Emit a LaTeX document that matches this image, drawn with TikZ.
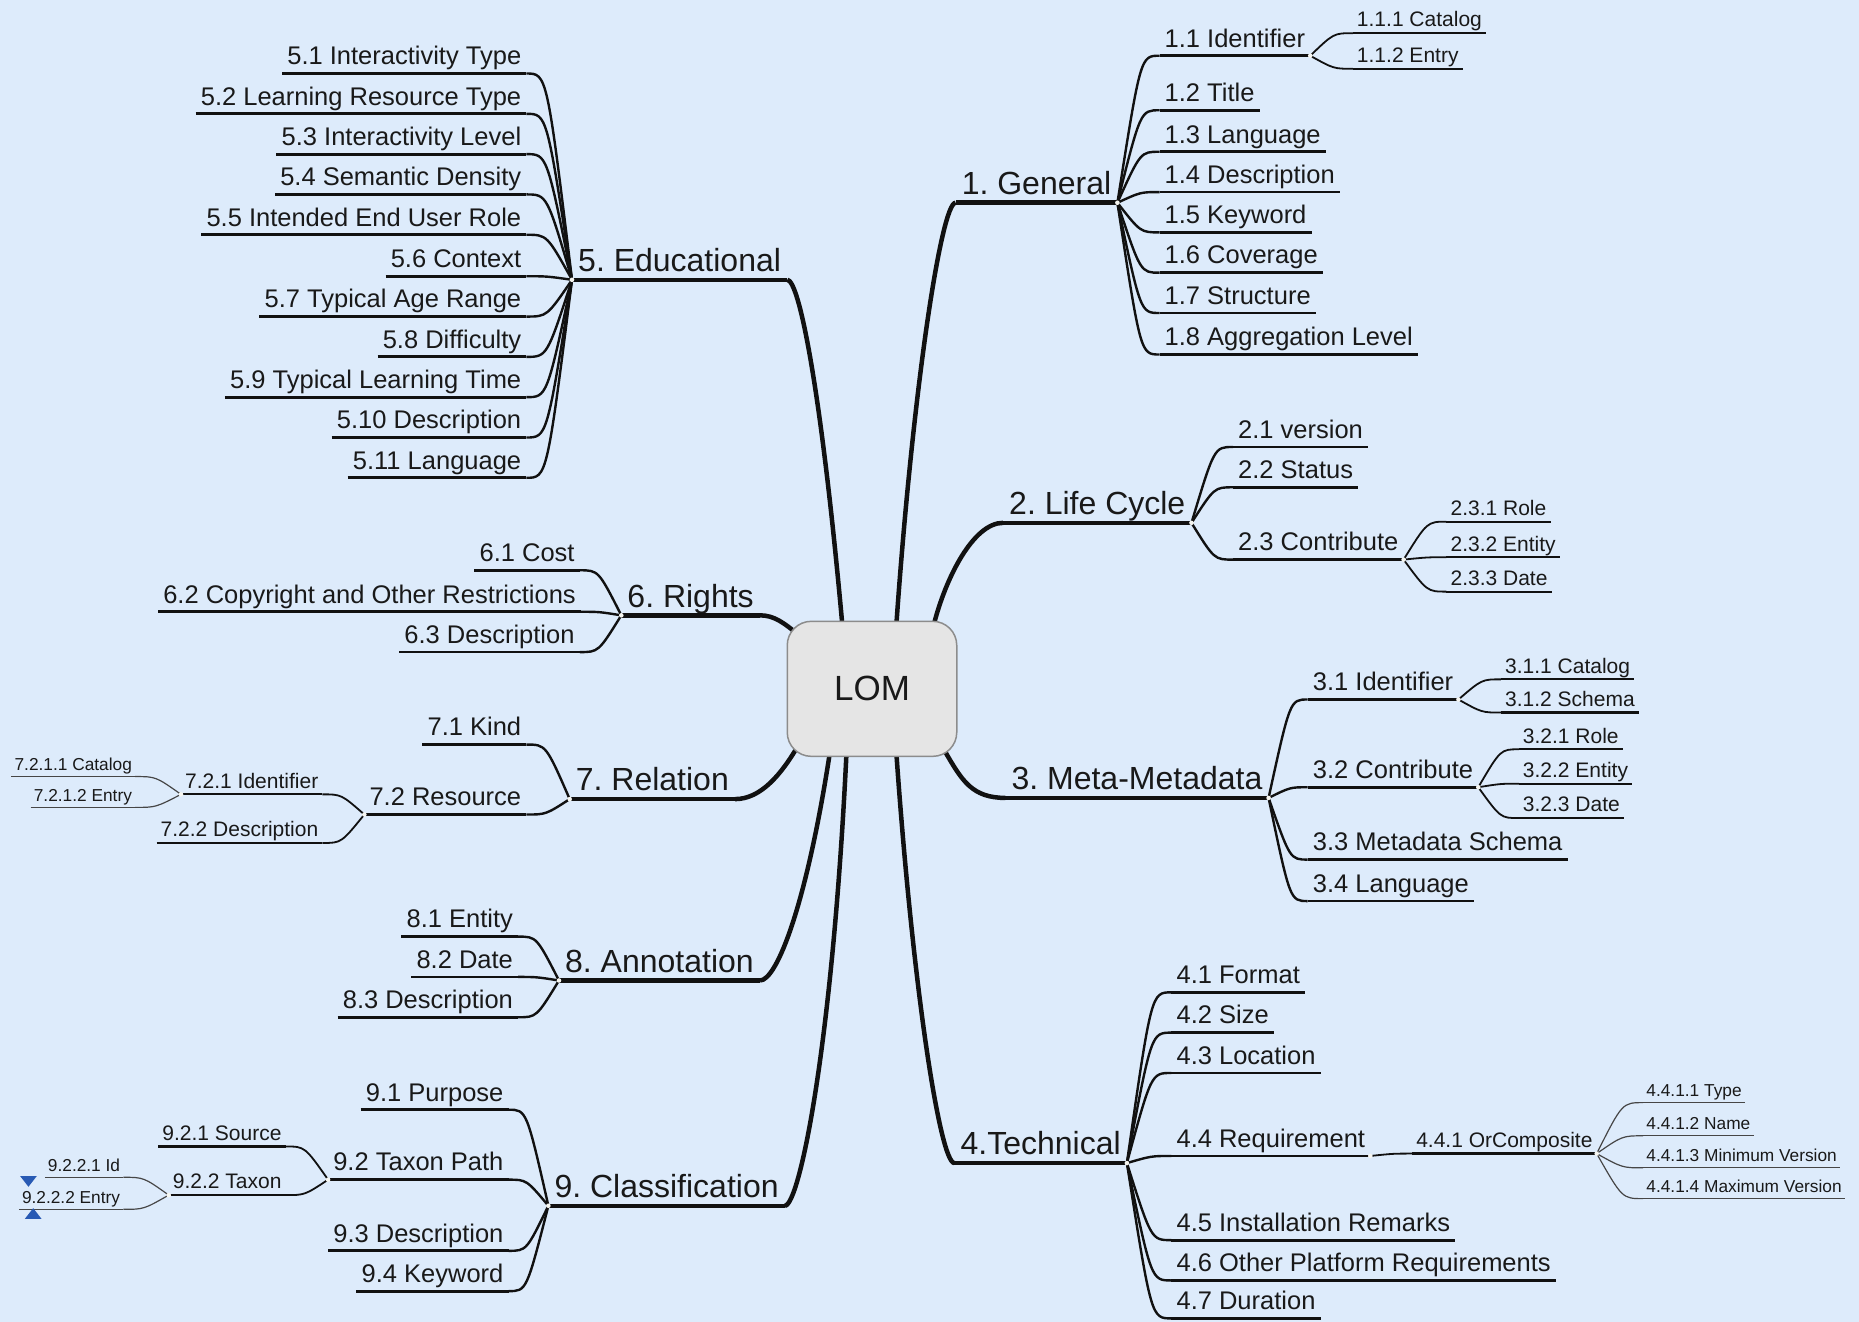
\documentclass[tikz,border=0pt]{standalone}
\usepackage{fontspec}
\setmainfont{Liberation Sans}
\usetikzlibrary{calc}
\pgfdeclarelayer{back}
\pgfdeclarelayer{edges}
\pgfsetlayers{back,edges,main}
\definecolor{bgc}{RGB}{221,235,251}
\definecolor{txt}{RGB}{25,25,25}
\definecolor{ln}{RGB}{17,17,17}
\definecolor{lnfour}{RGB}{70,70,70}
\definecolor{lomfill}{RGB}{229,229,229}
\definecolor{lomdraw}{RGB}{140,140,140}
\definecolor{tri}{RGB}{40,90,180}
\definecolor{dotc}{RGB}{245,245,240}
\newcommand\mmU[2]{\draw[#2] (#1.south west) -- (#1.south east);}
\newcommand\mmR[3]{\draw[#3] let \p1=(#1.south east), \p2=(#2.south west) in (\p1) .. controls ({\x2-0.45*(\x2-\x1)},\y2) .. (\p2);}
\newcommand\mmL[3]{\draw[#3] let \p1=(#1.south west), \p2=(#2.south east) in (\p1) .. controls ({\x2+0.45*(\x1-\x2)},\y2) .. (\p2);}
\newcommand\mmDR[1]{\fill[dotc] (#1.south east) circle (2.3pt);}
\newcommand\mmDL[1]{\fill[dotc] (#1.south west) circle (2.3pt);}
\begin{document}
\frenchspacing
\begin{tikzpicture}[x=1.1856pt,y=-1.1856pt,
  base/.style={text=txt, text depth=0pt, inner sep=0pt},
  L1/.style={base, font=\fontsize{32}{38}\selectfont\frenchspacing, inner xsep=6pt, inner ysep=8pt},
  L2/.style={base, font=\fontsize{25.5}{30}\selectfont, inner xsep=5pt, inner ysep=8.5pt},
  L3/.style={base, font=\fontsize{21}{25}\selectfont, inner xsep=4pt, inner ysep=6pt},
  L4/.style={base, font=\fontsize{17.3}{21}\selectfont, inner xsep=3pt, inner ysep=6pt},
  R/.style={anchor=south west}, Lt/.style={anchor=south east},
  U1/.style={draw=ln, line width=4.5pt},
  U2/.style={draw=ln, line width=2.8pt},
  U3/.style={draw=ln, line width=2.2pt},
  U4/.style={draw=lnfour, line width=1.3pt},
  E1/.style={draw=ln, line width=4.5pt},
  E2/.style={draw=ln, line width=2.4pt},
  E3/.style={draw=ln, line width=1.8pt},
  E4/.style={draw=lnfour, line width=1.2pt},
  lomst/.style={rectangle, rounded corners=24pt, fill=lomfill, draw=lomdraw, line width=1.5pt,
    minimum width=169.5pt, minimum height=135pt, text=txt, font=\fontsize{35}{40}\selectfont}
]
\begin{pgfonlayer}{back}
\fill[bgc] (0,0) rectangle (1568,1115);
\end{pgfonlayer}
\useasboundingbox (0,0) rectangle (1568,1115);

\node[lomst] (lom) at (735.5,581) {LOM};

% level 1
\node[L1,R] (gen) at (806,171) {1. General};
\node[L1,R] (life) at (846,441) {2. Life Cycle};
\node[L1,R] (meta) at (848,673) {3. Meta-Metadata};
\node[L1,R] (tech) at (805,981) {4.Technical};
\node[L1,Lt] (edu) at (664,236) {5. Educational};
\node[L1,Lt] (rights) at (641,519) {6. Rights};
\node[L1,Lt] (rel) at (620,674) {7. Relation};
\node[L1,Lt] (ann) at (641,827) {8. Annotation};
\node[L1,Lt] (cls) at (662,1017) {9. Classification};

% 1. General
\node[L2,R] (g1) at (978,47) {1.1 Identifier};
\node[L2,R] (g2) at (978,93) {1.2 Title};
\node[L2,R] (g3) at (978,128) {1.3 Language};
\node[L2,R] (g4) at (978,162) {1.4 Description};
\node[L2,R] (g5) at (978,196) {1.5 Keyword};
\node[L2,R] (g6) at (978,230) {1.6 Coverage};
\node[L2,R] (g7) at (978,264) {1.7 Structure};
\node[L2,R] (g8) at (978,299) {1.8 Aggregation Level};
\node[L3,R] (g11) at (1141,28) {1.1.1 Catalog};
\node[L3,R] (g12) at (1141,58) {1.1.2 Entry};

% 2. Life Cycle
\node[L2,R] (lc1) at (1040,377) {2.1 version};
\node[L2,R] (lc2) at (1040,411) {2.2 Status};
\node[L2,R] (lc3) at (1040,472) {2.3 Contribute};
\node[L3,R] (lc31) at (1220,440) {2.3.1 Role};
\node[L3,R] (lc32) at (1220,470) {2.3.2 Entity};
\node[L3,R] (lc33) at (1220,499) {2.3.3 Date};

% 3. Meta-Metadata
\node[L2,R] (m1) at (1103,590) {3.1 Identifier};
\node[L2,R] (m2) at (1103,664) {3.2 Contribute};
\node[L2,R] (m3) at (1103,725) {3.3 Metadata Schema};
\node[L2,R] (m4) at (1103,760) {3.4 Language};
\node[L3,R] (m11) at (1266,573) {3.1.1 Catalog};
\node[L3,R] (m12) at (1266,601) {3.1.2 Schema};
\node[L3,R] (m21) at (1281,632) {3.2.1 Role};
\node[L3,R] (m22) at (1281,661) {3.2.2 Entity};
\node[L3,R] (m23) at (1281,690) {3.2.3 Date};

% 4. Technical
\node[L2,R] (t1) at (988,837) {4.1 Format};
\node[L2,R] (t2) at (988,871) {4.2 Size};
\node[L2,R] (t3) at (988,905) {4.3 Location};
\node[L2,R] (t4) at (988,975) {4.4 Requirement};
\node[L2,R] (t5) at (988,1046) {4.5 Installation Remarks};
\node[L2,R] (t6) at (988,1080) {4.6 Other Platform Requirements};
\node[L2,R] (t7) at (988,1112) {4.7 Duration};
\node[L3,R] (t41) at (1191,973) {4.4.1 OrComposite};
\node[L4,R] (t411) at (1386,930) {4.4.1.1 Type};
\node[L4,R] (t412) at (1386,958) {4.4.1.2 Name};
\node[L4,R] (t413) at (1386,985) {4.4.1.3 Minimum Version};
\node[L4,R] (t414) at (1386,1011) {4.4.1.4 Maximum Version};

% 5. Educational
\node[L2,Lt] (ed1) at (444,62) {5.1 Interactivity Type};
\node[L2,Lt] (ed2) at (444,96) {5.2 Learning Resource Type};
\node[L2,Lt] (ed3) at (444,130) {5.3 Interactivity Level};
\node[L2,Lt] (ed4) at (444,164) {5.4 Semantic Density};
\node[L2,Lt] (ed5) at (444,198) {5.5 Intended End User Role};
\node[L2,Lt] (ed6) at (444,233) {5.6 Context};
\node[L2,Lt] (ed7) at (444,267) {5.7 Typical Age Range};
\node[L2,Lt] (ed8) at (444,301) {5.8 Difficulty};
\node[L2,Lt] (ed9) at (444,335) {5.9 Typical Learning Time};
\node[L2,Lt] (ed10) at (444,369) {5.10 Description};
\node[L2,Lt] (ed11) at (444,403) {5.11 Language};

% 6. Rights
\node[L2,Lt] (r1) at (489,481) {6.1 Cost};
\node[L2,Lt] (r2) at (490,516) {6.2 Copyright and Other Restrictions};
\node[L2,Lt] (r3) at (489,550) {6.3 Description};

% 7. Relation
\node[L2,Lt] (rl1) at (444,628) {7.1 Kind};
\node[L2,Lt] (rl2) at (444,687) {7.2 Resource};
\node[L3,Lt] (rl21) at (272,670) {7.2.1 Identifier};
\node[L3,Lt] (rl22) at (272,711) {7.2.2 Description};
\node[L4,Lt] (rl211) at (114,655) {7.2.1.1 Catalog};
\node[L4,Lt] (rl212) at (114,681) {7.2.1.2 Entry};

% 8. Annotation
\node[L2,Lt] (a1) at (437,790) {8.1 Entity};
\node[L2,Lt] (a2) at (437,824) {8.2 Date};
\node[L2,Lt] (a3) at (437,858) {8.3 Description};

% 9. Classification
\node[L2,Lt] (c1) at (429,936) {9.1 Purpose};
\node[L2,Lt] (c2) at (429,995) {9.2 Taxon Path};
\node[L2,Lt] (c3) at (429,1055) {9.3 Description};
\node[L2,Lt] (c4) at (429,1089) {9.4 Keyword};
\node[L3,Lt] (c21) at (241,967) {9.2.1 Source};
\node[L3,Lt] (c22) at (241,1008) {9.2.2 Taxon};
\node[L4,Lt] (c221) at (104,993) {9.2.2.1 Id};
\node[L4,Lt] (c222) at (104,1020) {9.2.2.2 Entry};

% root connectors (behind the LOM box)
\begin{pgfonlayer}{edges}
\draw[E1] ($(lom.north)+(20.5,4)$) .. controls +(14,-200) and +(-12,0) .. (gen.south west);
\draw[E1] ($(lom.north)+(52,4)$) .. controls +(10,-40) and +(-25,0) .. (life.south west);
\draw[E1] ($(lom.south)+(62,-4)$) .. controls +(14,24) and +(-28,0) .. (meta.south west);
\draw[E1] ($(lom.south)+(20.5,-4)$) .. controls +(14,200) and +(-12,0) .. (tech.south west);
\draw[E1] ($(lom.north)+(-25,4)$) .. controls +(-18,-200) and +(10,0) .. (edu.south east);
\draw[E1] ($(lom.north west)+(10,12)$) .. controls +(-12,-10) and +(12,0) .. (rights.south east);
\draw[E1] ($(lom.south west)+(10,-10)$) .. controls +(-14,24) and +(22,0) .. (rel.south east);
\draw[E1] ($(lom.south)+(-35.5,-4)$) .. controls +(-20,130) and +(14,0) .. (ann.south east);
\draw[E1] ($(lom.south)+(-21.5,-4)$) .. controls +(-12,250) and +(12,0) .. (cls.south east);
\end{pgfonlayer}

% underlines
\foreach \q in {gen,life,meta,tech,edu,rights,rel,ann,cls} {\mmU{\q}{U1}}
\foreach \q in {g1,g2,g3,g4,g5,g6,g7,g8,lc1,lc2,lc3,m1,m2,m3,m4,t1,t2,t3,t4,t5,t6,t7,
  ed1,ed2,ed3,ed4,ed5,ed6,ed7,ed8,ed9,ed10,ed11,r1,r2,r3,rl1,rl2,a1,a2,a3,c1,c2,c3,c4} {\mmU{\q}{U2}}
\foreach \q in {g11,g12,lc31,lc32,lc33,m11,m12,m21,m22,m23,t41,rl21,rl22,c21,c22} {\mmU{\q}{U3}}
\foreach \q in {t411,t412,t413,t414,rl211,rl212,c221,c222} {\mmU{\q}{U4}}

% level 1 -> level 2 connectors
\foreach \q in {g1,g2,g3,g4,g5,g6,g7,g8} {\mmR{gen}{\q}{E2}}
\foreach \q in {lc1,lc2,lc3} {\mmR{life}{\q}{E2}}
\foreach \q in {m1,m2,m3,m4} {\mmR{meta}{\q}{E2}}
\foreach \q in {t1,t2,t3,t4,t5,t6,t7} {\mmR{tech}{\q}{E2}}
\foreach \q in {ed1,ed2,ed3,ed4,ed5,ed6,ed7,ed8,ed9,ed10,ed11} {\mmL{edu}{\q}{E2}}
\foreach \q in {r1,r2,r3} {\mmL{rights}{\q}{E2}}
\foreach \q in {rl1,rl2} {\mmL{rel}{\q}{E2}}
\foreach \q in {a1,a2,a3} {\mmL{ann}{\q}{E2}}
\foreach \q in {c1,c2,c3,c4} {\mmL{cls}{\q}{E2}}

% level 2 -> level 3
\foreach \q in {g11,g12} {\mmR{g1}{\q}{E3}}
\foreach \q in {lc31,lc32,lc33} {\mmR{lc3}{\q}{E3}}
\foreach \q in {m11,m12} {\mmR{m1}{\q}{E3}}
\foreach \q in {m21,m22,m23} {\mmR{m2}{\q}{E3}}
\mmR{t4}{t41}{E3}
\foreach \q in {rl21,rl22} {\mmL{rl2}{\q}{E3}}
\foreach \q in {c21,c22} {\mmL{c2}{\q}{E3}}

% level 3 -> level 4
\foreach \q in {t411,t412,t413,t414} {\mmR{t41}{\q}{E4}}
\foreach \q in {rl211,rl212} {\mmL{rl21}{\q}{E4}}
\foreach \q in {c221,c222} {\mmL{c22}{\q}{E4}}

% junction dots
\foreach \q in {gen,life,meta,tech,g1,lc3,m1,m2,t4,t41} {\mmDR{\q}}
\foreach \q in {edu,rights,rel,ann,cls,rl2,rl21,c2,c22} {\mmDL{\q}}

% selection markers
\fill[tri] (17,992) -- (31,992) -- (24,1001) -- cycle;
\fill[tri] (21,1028) -- (35,1028) -- (28,1019) -- cycle;
\end{tikzpicture}
\end{document}
